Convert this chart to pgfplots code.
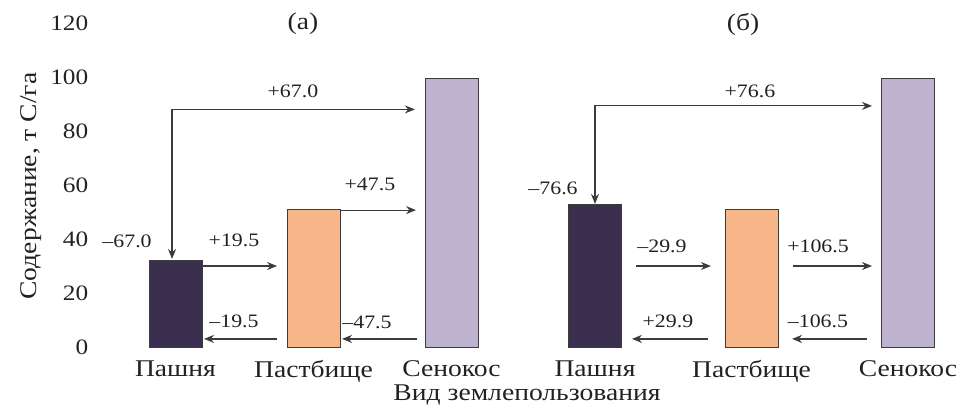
\documentclass[border=0pt]{standalone}
\usepackage{fontspec}
\setmainfont{Liberation Serif}[FakeStretch=1.15]
\usepackage{pgfplots}
\pgfplotsset{compat=1.18}
\usetikzlibrary{arrows.meta}
\definecolor{cPash}{HTML}{3A2F4F}
\definecolor{cPast}{HTML}{F8B789}
\definecolor{cSen}{HTML}{BDB3CF}
\definecolor{cLine}{HTML}{3C3C3C}
\definecolor{cText}{HTML}{222222}
\pgfplotsset{
 myaxis/.style={scale only axis, height=162pt, ymin=0, ymax=120, enlargelimits=false,
   axis line style={draw=none}, major tick style={draw=none},
   ytick={0,20,...,120}, xtick={0,1,2}, xticklabels={Пашня,Пастбище,Сенокос},
   ybar, bar width=26.5pt, bar shift=0pt, clip=false,
   yticklabel style={font=\fontsize{11}{13}\selectfont, text=cText, xshift=1.3pt},
   xticklabel style={font=\fontsize{12}{14}\selectfont, text=cText, yshift=1pt},
   /pgf/number format/assume math mode=true, anchor=south west}
}
\tikzset{
 arr/.style={draw=cLine, line width=0.6pt, -{Stealth[length=5pt,width=4pt]}},
 darr/.style={draw=cLine, line width=0.6pt, {Stealth[length=5pt,width=4pt]}-{Stealth[length=5pt,width=4pt]}},
 lab/.style={font=\fontsize{9.5}{11}\selectfont, text=cText},
 bars/.style={draw=cLine, line width=0.5pt}
}
\begin{document}
\begin{tikzpicture}
\useasboundingbox (0,0) rectangle (480pt,204.5pt);
% panel (a)
\begin{axis}[myaxis, at={(46.35pt,31pt)}, width=203.55pt, xmin=-0.6, xmax=2.35]
\addplot[bars, fill=cPash] coordinates {(0,32.2)};
\addplot[bars, fill=cPast] coordinates {(1,51.1)};
\addplot[bars, fill=cSen] coordinates {(2,99.6)};
\node[font=\fontsize{12}{14}\selectfont, text=cText] at (axis cs:0.924,119.6) {(а)};
\draw[darr] (axis cs:1.735,88) -- (axis cs:-0.025,88) -- (axis cs:-0.025,32.6);
\node[lab] at (axis cs:0.851,94.8) {+67.0};
\node[lab] at (axis cs:-0.351,39) {\char"2013 67.0};
\draw[arr] (axis cs:0.192,30) -- (axis cs:0.736,30);
\node[lab] at (axis cs:0.424,39.6) {+19.5};
\draw[arr] (axis cs:0.736,3) -- (axis cs:0.207,3);
\node[lab] at (axis cs:0.424,9.6) {\char"2013 19.5};
\draw[arr] (axis cs:1.192,50.7) -- (axis cs:1.743,50.7);
\node[lab] at (axis cs:1.409,60.4) {+47.5};
\draw[arr] (axis cs:1.75,3) -- (axis cs:1.207,3);
\node[lab] at (axis cs:1.388,9.3) {\char"2013 47.5};
\end{axis}
% panel (b)
\begin{axis}[myaxis, at={(250.55pt,31pt)}, width=229.27pt, xmin=-0.6, xmax=2.33, yticklabels={}]
\addplot[bars, fill=cPash] coordinates {(0,52.6)};
\addplot[bars, fill=cPast] coordinates {(1,51.1)};
\addplot[bars, fill=cSen] coordinates {(2,99.6)};
\node[font=\fontsize{12}{14}\selectfont, text=cText] at (axis cs:0.946,119.6) {(б)};
\draw[darr] (axis cs:1.770,89.3) -- (axis cs:0,89.3) -- (axis cs:0,53);
\node[lab] at (axis cs:0.990,94.8) {+76.6};
\node[lab] at (axis cs:-0.268,58.9) {\char"2013 76.6};
\draw[arr] (axis cs:0.262,30) -- (axis cs:0.741,30);
\node[lab] at (axis cs:0.428,37.4) {\char"2013 29.9};
\draw[arr] (axis cs:0.722,3) -- (axis cs:0.236,3);
\node[lab] at (axis cs:0.466,9.6) {+29.9};
\draw[arr] (axis cs:1.265,30) -- (axis cs:1.770,30);
\node[lab] at (axis cs:1.425,37.4) {+106.5};
\draw[arr] (axis cs:1.738,3) -- (axis cs:1.259,3);
\node[lab] at (axis cs:1.425,9.6) {\char"2013 106.5};
\end{axis}
\node[rotate=90, font=\fontsize{12}{14}\selectfont, text=cText] at (15.5pt,111.5pt) {Содержание, т C/га};
\node[font=\fontsize{12}{14}\selectfont, text=cText] at (263.5pt,7pt) {Вид землепользования};
\end{tikzpicture}
\end{document}
